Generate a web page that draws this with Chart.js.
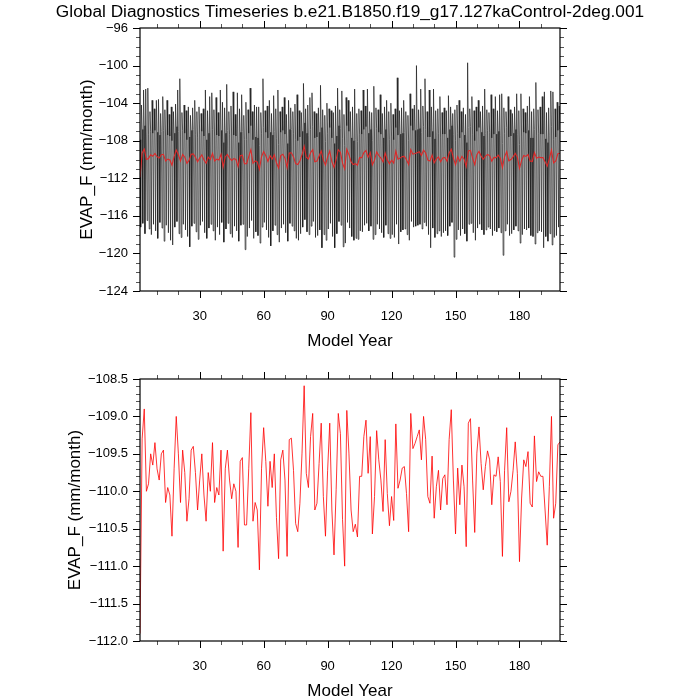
<!DOCTYPE html>
<html>
<head>
<meta charset="utf-8">
<script src="https://cdn.jsdelivr.net/npm/chart.js@4.4.1/dist/chart.umd.min.js"></script>
<style>
  body { margin: 0; background: #fff; }
  canvas { position: absolute; left: 0; }
  #topChart { top: 0; }
  #bottomChart { top: 350px; }
</style>
</head>
<body>
<canvas id="topChart" width="700" height="350"></canvas>
<canvas id="bottomChart" width="700" height="350"></canvas>
<script>
// model years shown on the x axis (first annual point sits on the left frame)
const firstYear = 2;
const lastYear = 199;

// annual mean EVAP_F (mm/month), one value per model year
const annualMean = [
  -111.9, -109.3, -108.9, -110.0, -109.9, -109.5, -109.65, -109.35, -109.7, -109.85,
  -109.5, -109.45, -110.15, -109.95, -110.05, -110.6, -109.7, -109.0, -109.5, -110.15,
  -109.45, -109.75, -110.4, -110.1, -109.45, -109.4, -109.75, -110.25, -109.85, -109.5,
  -110.05, -110.4, -109.75, -110.0, -109.35, -110.15, -109.95, -110.05, -109.45, -110.8,
  -109.7, -109.45, -109.85, -110.1, -109.9, -110.0, -110.75, -109.6, -109.55, -110.45,
  -110.45, -109.7, -108.95, -110.4, -110.15, -110.25, -111.05, -109.7, -109.15, -109.6,
  -110.2, -109.6, -109.95, -109.5, -110.35, -110.9, -109.58, -109.45, -109.85, -110.87,
  -109.31, -109.29, -109.72, -110.43, -110.54, -110.16, -109.49, -108.59, -109.76, -109.95,
  -109.27, -108.96, -110.25, -110.16, -109.63, -109.09, -110.07, -110.6, -109.72, -109.09,
  -110.25, -110.85, -109.98, -108.96, -109.23, -110.38, -111.0, -108.92, -109.49, -110.25,
  -110.54, -110.44, -110.61, -109.8, -109.8, -109.27, -109.05, -109.76, -109.27, -110.57,
  -110.07, -109.19, -109.58, -109.85, -110.27, -109.31, -110.03, -110.46, -110.07, -110.39,
  -109.1, -109.96, -109.85, -109.69, -109.67, -110.03, -110.54, -108.96, -109.43, -109.36,
  -109.27, -109.18, -109.58, -109.0, -109.31, -110.07, -110.16, -109.53, -110.36, -109.94,
  -109.72, -110.25, -109.83, -109.78, -110.18, -109.31, -108.91, -109.85, -110.57, -109.69,
  -110.18, -109.65, -109.94, -110.74, -109.09, -109.03, -109.85, -110.55, -109.49, -109.14,
  -109.63, -109.98, -109.67, -109.46, -109.58, -110.18, -109.78, -109.8, -109.54, -109.87,
  -110.87, -109.72, -109.15, -110.14, -110.0, -109.72, -109.34, -109.76, -110.94, -110.09,
  -109.58, -109.67, -109.47, -110.16, -110.21, -109.26, -109.87, -109.74, -109.8, -109.8,
  -110.25, -110.72, -109.94, -109.0, -110.36, -110.16, -109.38, -109.34
];

// monthly series, kept as three readings per year: the high peak, a mid-year value, the low trough
const yearHigh = [
  -104.8, -104.2, -102.6, -102.5, -102.4, -104.9, -103.7, -104.6, -103.7, -103.6,
  -105.1, -103.3, -104.7, -103.7, -105.2, -104.4, -104.9, -104.1, -102.6, -101.4,
  -105.0, -104.2, -104.8, -104.4, -105.3, -104.5, -103.7, -104.9, -104.4, -105.1,
  -104.6, -102.6, -104.8, -103.3, -102.9, -104.7, -103.4, -105.0, -102.6, -103.9,
  -104.5, -102.0, -104.9, -104.3, -102.8, -105.2, -102.9, -104.6, -103.1, -105.3,
  -103.9, -104.7, -102.4, -104.9, -104.2, -104.4, -104.4, -105.0, -101.4, -104.8,
  -104.3, -103.7, -105.1, -103.2, -104.6, -102.6, -104.9, -104.4, -103.4, -105.2,
  -103.7, -104.5, -104.9, -104.1, -103.1, -104.8, -105.0, -101.9, -104.6, -104.2,
  -103.4, -102.9, -104.9, -105.1, -104.5, -102.1, -104.7, -105.3, -104.0, -104.6,
  -104.8, -105.0, -104.3, -102.4, -104.7, -102.7, -105.2, -103.4, -103.7, -104.9,
  -104.4, -102.5, -105.1, -104.6, -104.8, -102.6, -104.3, -102.5, -104.9, -105.0,
  -102.2, -104.5, -104.7, -103.1, -105.1, -104.4, -103.7, -104.9, -104.0, -105.2,
  -104.6, -101.3, -104.8, -104.5, -103.7, -104.9, -105.3, -103.0, -104.6, -104.2,
  -100.0, -104.7, -102.5, -104.3, -101.4, -104.9, -102.6, -104.4, -102.5, -104.8,
  -104.6, -103.3, -105.0, -104.5, -104.8, -103.2, -104.4, -105.1, -104.7, -104.2,
  -103.7, -104.9, -104.5, -105.2, -99.7, -104.6, -103.3, -104.8, -104.4, -103.7,
  -104.9, -104.3, -102.5, -104.7, -105.0, -103.1, -104.6, -103.3, -104.8, -103.1,
  -103.0, -104.5, -104.9, -103.3, -104.7, -105.1, -104.4, -103.0, -104.8, -103.0,
  -104.6, -105.0, -104.3, -103.3, -104.9, -104.6, -101.8, -104.7, -104.4, -103.3,
  -102.8, -105.0, -104.5, -102.7, -102.8, -104.6, -103.9, -104.3
];

const yearMid = [
  -107.9, -106.8, -106.4, -107.5, -107.3, -107.0, -107.2, -106.9, -107.1, -107.4,
  -107.0, -106.9, -107.6, -107.4, -107.5, -108.0, -107.2, -106.5, -107.0, -107.6,
  -106.9, -107.2, -107.9, -107.6, -106.9, -106.8, -107.3, -107.7, -107.3, -107.0,
  -107.5, -107.9, -107.2, -107.5, -106.8, -107.6, -107.4, -107.5, -106.9, -108.2,
  -107.2, -106.9, -107.3, -107.6, -107.4, -107.5, -108.2, -107.1, -107.0, -107.9,
  -107.9, -107.2, -106.4, -107.9, -107.6, -107.7, -108.5, -107.2, -106.6, -107.1,
  -107.7, -107.1, -107.4, -107.0, -107.8, -108.4, -107.1, -106.9, -107.3, -108.3,
  -106.8, -106.8, -107.2, -107.9, -108.0, -107.6, -107.0, -106.1, -107.2, -107.4,
  -106.8, -106.5, -107.7, -107.6, -107.1, -106.6, -107.5, -108.1, -107.2, -106.6,
  -107.7, -108.3, -107.5, -106.4, -106.7, -107.8, -108.5, -106.4, -107.0, -107.7,
  -108.0, -107.9, -108.1, -107.3, -107.3, -106.8, -106.5, -107.2, -106.8, -108.0,
  -107.5, -106.7, -107.1, -107.3, -107.7, -106.8, -107.5, -107.9, -107.6, -107.9,
  -106.6, -107.4, -107.3, -107.2, -107.1, -107.5, -108.0, -106.4, -106.9, -106.9,
  -106.8, -106.7, -107.1, -106.5, -106.8, -107.6, -107.6, -107.0, -107.8, -107.4,
  -107.2, -107.7, -107.3, -107.3, -107.7, -106.8, -106.4, -107.3, -108.0, -107.2,
  -107.7, -107.1, -107.4, -108.2, -106.6, -106.5, -107.3, -108.0, -107.0, -106.6,
  -107.1, -107.5, -107.2, -106.9, -107.1, -107.7, -107.3, -107.3, -107.0, -107.4,
  -108.3, -107.2, -106.6, -107.6, -107.5, -107.2, -106.8, -107.3, -108.4, -107.6,
  -107.1, -107.2, -106.9, -107.7, -107.7, -106.8, -107.4, -107.2, -107.3, -107.3,
  -107.8, -108.2, -107.4, -106.5, -107.9, -107.6, -106.9, -106.8
];

const yearLow = [
  -117.2, -116.8, -117.9, -116.5, -117.4, -118.0, -116.9, -117.6, -118.4, -116.7,
  -117.3, -118.7, -117.0, -117.8, -118.6, -119.1, -117.2, -116.6, -117.9, -118.3,
  -116.9, -117.5, -118.2, -119.3, -117.1, -116.8, -117.7, -118.5, -117.0, -116.6,
  -117.8, -118.4, -117.3, -116.9, -117.6, -118.6, -117.2, -118.0, -116.7, -118.8,
  -117.4, -116.8, -117.9, -118.3, -117.1, -117.6, -118.7, -117.0, -116.9, -119.6,
  -118.2, -117.3, -116.5, -118.4, -117.7, -118.1, -118.9, -117.2, -116.7, -117.5,
  -118.3, -119.2, -117.6, -117.0, -118.0, -118.8, -117.3, -116.9, -117.8, -118.7,
  -116.8, -117.1, -117.6, -118.4, -118.6, -117.9, -117.2, -116.4, -117.7, -118.0,
  -117.1, -116.6, -118.3, -118.1, -117.5, -119.4, -118.0, -118.6, -117.4, -116.8,
  -118.2, -119.4, -117.9, -116.6, -117.0, -119.3, -118.9, -116.7, -117.3, -118.2,
  -118.6, -118.4, -118.5, -117.6, -117.7, -117.0, -116.8, -117.6, -117.1, -118.5,
  -118.0, -116.9, -117.4, -117.8, -118.3, -117.0, -117.9, -118.4, -118.0, -118.3,
  -116.9, -119.0, -117.7, -117.5, -117.4, -118.0, -118.6, -116.6, -117.2, -117.1,
  -117.0, -116.9, -117.4, -116.7, -117.1, -118.0, -119.4, -117.3, -118.3, -117.9,
  -117.6, -118.2, -117.8, -117.6, -118.1, -117.1, -116.7, -120.4, -118.5, -117.5,
  -118.1, -117.4, -117.9, -118.7, -116.9, -116.8, -117.8, -118.6, -117.3, -116.9,
  -117.5, -118.0, -117.5, -117.2, -117.4, -118.1, -117.6, -117.7, -117.3, -117.8,
  -120.2, -117.6, -116.9, -118.1, -117.9, -117.5, -117.1, -117.6, -118.9, -118.0,
  -117.4, -117.5, -117.3, -118.1, -118.2, -119.0, -117.8, -117.6, -117.7, -119.4,
  -118.2, -118.7, -117.9, -119.1, -118.3, -118.1, -117.2, -117.1
];

// tick labels
const xTickValues = [30, 60, 90, 120, 150, 180];
const topYTickValues = [-124, -120, -116, -112, -108, -104, -100, -96];
const bottomYTickValues = [-112.0, -111.5, -111.0, -110.5, -110.0, -109.5, -109.0, -108.5];

const titleText = 'Global Diagnostics Timeseries b.e21.B1850.f19_g17.127kaControl-2deg.001';
const xTitle = 'Model Year';
const yTitle = 'EVAP_F (mm/month)';

const fontFamily = '"Liberation Sans", Arial, sans-serif';
Chart.defaults.font.family = fontFamily;
Chart.defaults.color = '#000';

// build point lists from the arrays above
const annualPoints = annualMean.map((v, i) => ({ x: firstYear + i, y: v }));
const monthlyPoints = [];
yearHigh.forEach((h, i) => {
    const yr = firstYear + i;
    monthlyPoints.push({ x: yr - 0.33, y: h });
    monthlyPoints.push({ x: yr, y: yearMid[i] });
    monthlyPoints.push({ x: yr + 0.33, y: yearLow[i] });
});

// NCL-like frame with outward major/minor tick marks on all four sides
const nclFrame = {
    id: 'nclFrame',
    afterDraw(chart, args, opts) {
        const { ctx, chartArea: a, scales } = chart;
        const xs = scales.x, ys = scales.y;
        ctx.save();
        ctx.lineWidth = 1;

        function tickX(v, len) {
            const px = Math.round(xs.getPixelForValue(v)) + 0.5;
            ctx.beginPath();
            ctx.moveTo(px, a.bottom); ctx.lineTo(px, a.bottom + len);
            ctx.moveTo(px, a.top); ctx.lineTo(px, a.top - len);
            ctx.stroke();
        }
        function tickY(v, len) {
            const py = Math.round(ys.getPixelForValue(v)) + 0.5;
            ctx.beginPath();
            ctx.moveTo(a.left, py); ctx.lineTo(a.left - len, py);
            ctx.moveTo(a.right, py); ctx.lineTo(a.right + len, py);
            ctx.stroke();
        }

        ctx.strokeStyle = '#555';
        for (let v = opts.xMinorStep; v < xs.max; v += opts.xMinorStep) {
            if (v > xs.min) tickX(v, 4);
        }
        for (let k = 1; ys.min + k * opts.yMinorStep < ys.max - 1e-6; k++) {
            tickY(ys.min + k * opts.yMinorStep, 4);
        }
        ctx.strokeStyle = '#000';
        xTickValues.forEach(v => tickX(v, 7));
        opts.yMajor.forEach(v => tickY(v, 7));

        ctx.lineWidth = 1.2;
        ctx.strokeRect(a.left, a.top, a.right - a.left, a.bottom - a.top);

        // main title, centred on the page
        if (opts.title) {
            ctx.fillStyle = '#000';
            ctx.font = '17.3px ' + fontFamily;
            ctx.textAlign = 'center';
            ctx.textBaseline = 'middle';
            ctx.fillText(opts.title, chart.width / 2, 12);
        }
        ctx.restore();
    }
};

function makeScales(yMin, yMax, yTicks, fmt, yTitlePad) {
    return {
        x: {
            type: 'linear',
            min: firstYear,
            max: lastYear,
            afterBuildTicks: s => { s.ticks = xTickValues.map(v => ({ value: v })); },
            afterFit: s => { s.height = 59; },
            grid: { display: false, drawTicks: false },
            border: { display: false },
            ticks: { padding: 18, font: { size: 13 }, maxRotation: 0 },
            title: { display: true, text: xTitle, font: { size: 17, lineHeight: 1 }, padding: { top: 0, bottom: 0 } }
        },
        y: {
            type: 'linear',
            min: yMin,
            max: yMax,
            afterBuildTicks: s => { s.ticks = yTicks.map(v => ({ value: v })); },
            afterFit: s => { s.width = 140; },
            grid: { display: false, drawTicks: false },
            border: { display: false },
            ticks: {
                padding: 12,
                font: { size: 13 },
                callback: v => fmt(v).replace('-', '\u2212')
            },
            title: { display: true, text: yTitle, font: { size: 17 }, padding: { top: yTitlePad, bottom: 0 } }
        }
    };
}

// upper panel: monthly values in black, annual means in red
new Chart(document.getElementById('topChart'), {
    type: 'line',
    data: {
        datasets: [
            {
                label: 'annual',
                data: annualPoints,
                borderColor: 'rgb(222, 40, 40)',
                borderWidth: 1.1,
                pointRadius: 0,
                tension: 0
            },
            {
                label: 'monthly',
                data: monthlyPoints,
                borderColor: '#111',
                borderWidth: 0.65,
                pointRadius: 0,
                tension: 0
            }
        ]
    },
    options: {
        responsive: false,
        animation: false,
        layout: { padding: { left: 0, right: 140, top: 28, bottom: 0 } },
        plugins: {
            legend: { display: false },
            tooltip: { enabled: false },
            title: { display: false },
            nclFrame: { xMinorStep: 10, yMinorStep: 1, yMajor: topYTickValues, title: titleText }
        },
        scales: makeScales(-124, -96, topYTickValues, v => String(v), 77)
    },
    plugins: [nclFrame]
});

// lower panel: annual means only
new Chart(document.getElementById('bottomChart'), {
    type: 'line',
    data: {
        datasets: [
            {
                label: 'annual',
                data: annualPoints,
                borderColor: 'rgb(255, 0, 0)',
                borderWidth: 0.8,
                pointRadius: 0,
                tension: 0
            }
        ]
    },
    options: {
        responsive: false,
        animation: false,
        layout: { padding: { left: 0, right: 140, top: 29, bottom: 0 } },
        plugins: {
            legend: { display: false },
            tooltip: { enabled: false },
            nclFrame: { xMinorStep: 10, yMinorStep: 0.1, yMajor: bottomYTickValues }
        },
        scales: makeScales(-112, -108.5, bottomYTickValues, v => v.toFixed(1), 65)
    },
    plugins: [nclFrame]
});
</script>
</body>
</html>
